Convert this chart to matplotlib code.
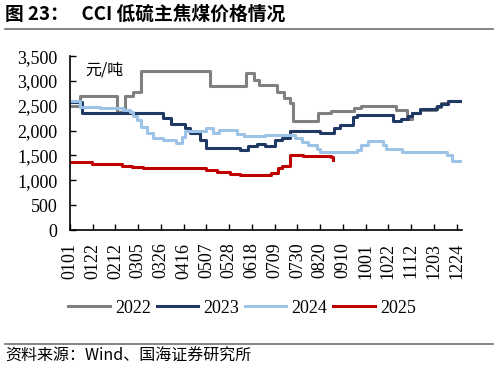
import matplotlib
matplotlib.use("Agg")
import matplotlib.pyplot as plt
from matplotlib.lines import Line2D

# day index (0 = 01-01) where the price changes, and the new price (yuan/t)
days_2022 = [0, 9, 43, 51, 58, 66, 129, 163, 170, 175, 191, 198, 203, 206, 229, 241, 262, 269, 301, 311, 316, 323, 338, 343, 349, 361]
vals_2022 = [2500, 2700, 2380, 2700, 2780, 3200, 2900, 3150, 3020, 2920, 2780, 2650, 2550, 2200, 2350, 2400, 2450, 2490, 2410, 2230, 2360, 2410, 2480, 2560, 2600, 2600]

days_2023 = [0, 11, 86, 93, 106, 111, 120, 126, 157, 164, 173, 180, 189, 196, 203, 231, 244, 249, 261, 265, 298, 306, 312, 316, 323, 339, 343, 349, 361]
vals_2023 = [2580, 2350, 2250, 2130, 2045, 1960, 1810, 1650, 1620, 1690, 1740, 1690, 1810, 1860, 2000, 1960, 2045, 2110, 2280, 2320, 2200, 2240, 2290, 2360, 2440, 2490, 2540, 2600, 2590]

days_2024 = [0, 9, 28, 49, 55, 58, 62, 66, 71, 77, 86, 98, 103, 106, 126, 132, 138, 154, 161, 180, 200, 208, 214, 220, 228, 231, 265, 269, 275, 289, 292, 307, 348, 353, 361]
vals_2024 = [2590, 2480, 2450, 2420, 2380, 2300, 2210, 2065, 1950, 1845, 1810, 1745, 1880, 2000, 2050, 1950, 2010, 1925, 1890, 1910, 1920, 1845, 1775, 1710, 1640, 1560, 1610, 1710, 1800, 1710, 1640, 1575, 1510, 1380, 1380]

days_2025 = [0, 20, 48, 57, 67, 126, 136, 148, 157, 186, 192, 196, 203, 215, 241, 243]
vals_2025 = [1375, 1330, 1290, 1270, 1250, 1205, 1170, 1135, 1105, 1150, 1240, 1290, 1500, 1480, 1470, 1400]

tick_days = [0, 21, 42, 63, 84, 105, 126, 147, 168, 189, 210, 231, 252, 273, 294, 315, 336, 357]
tick_labels = ["0101", "0122", "0212", "0305", "0326", "0416", "0507", "0528", "0618",
               "0709", "0730", "0820", "0910", "1001", "1022", "1112", "1203", "1224"]

series = [
    ("2022", days_2022, vals_2022, "#808080"),
    ("2023", days_2023, vals_2023, "#1F3864"),
    ("2024", days_2024, vals_2024, "#9DC3E6"),
    ("2025", days_2025, vals_2025, "#C00000"),
]

serif = ["Liberation Serif", "DejaVu Serif"]
cjk = ["Noto Sans CJK SC", "DejaVu Sans"]

fig = plt.figure(figsize=(4.98, 3.74), dpi=100)
ax = fig.add_axes([0.1406, 0.385, 0.787, 0.465])

for name, d, v, c in series:
    ax.step(d, v, where="post", color=c, lw=2.2, label=name)

ax.set_xlim(0, 362)
ax.set_ylim(0, 3500)
ax.set_yticks(range(0, 3501, 500))
ax.set_yticklabels([f"{t:,}" for t in range(0, 3501, 500)], family=serif, fontsize=13)
ax.set_xticks(tick_days)
ax.set_xticklabels(tick_labels, rotation=90, family=serif, fontsize=13)
ax.tick_params(direction="in", length=4, width=1, pad=9)
for s in ("top", "right"):
    ax.spines[s].set_visible(False)
for s in ("left", "bottom"):
    ax.spines[s].set_linewidth(1.2)

ax.text(0.04, 0.97, "元/吨", transform=ax.transAxes, family=cjk, fontsize=11.5, va="top")

handles = [Line2D([], [], color=c, lw=2.2) for _, _, _, c in series]
fig.legend(handles, [s[0] for s in series], loc="center", bbox_to_anchor=(0.486, 0.176),
           ncol=4, frameon=False, handlelength=2.3, handletextpad=0.3, columnspacing=0.3,
           prop={"family": serif, "size": 13})

fig.text(0.01, 0.962, "图 23：   CCI 低硫主焦煤价格情况", family=cjk, fontsize=13.5,
         fontweight="bold", va="center")
fig.add_artist(Line2D([0.01, 0.99], [0.922, 0.922], color="#707070", lw=1.2))
fig.add_artist(Line2D([0.01, 0.99], [0.08, 0.08], color="#707070", lw=1.2))
fig.text(0.01, 0.047, "资料来源：Wind、国海证券研究所", family=cjk, fontsize=11.5, va="center")

fig.savefig("out.png", dpi=100)
plt.close(fig)
